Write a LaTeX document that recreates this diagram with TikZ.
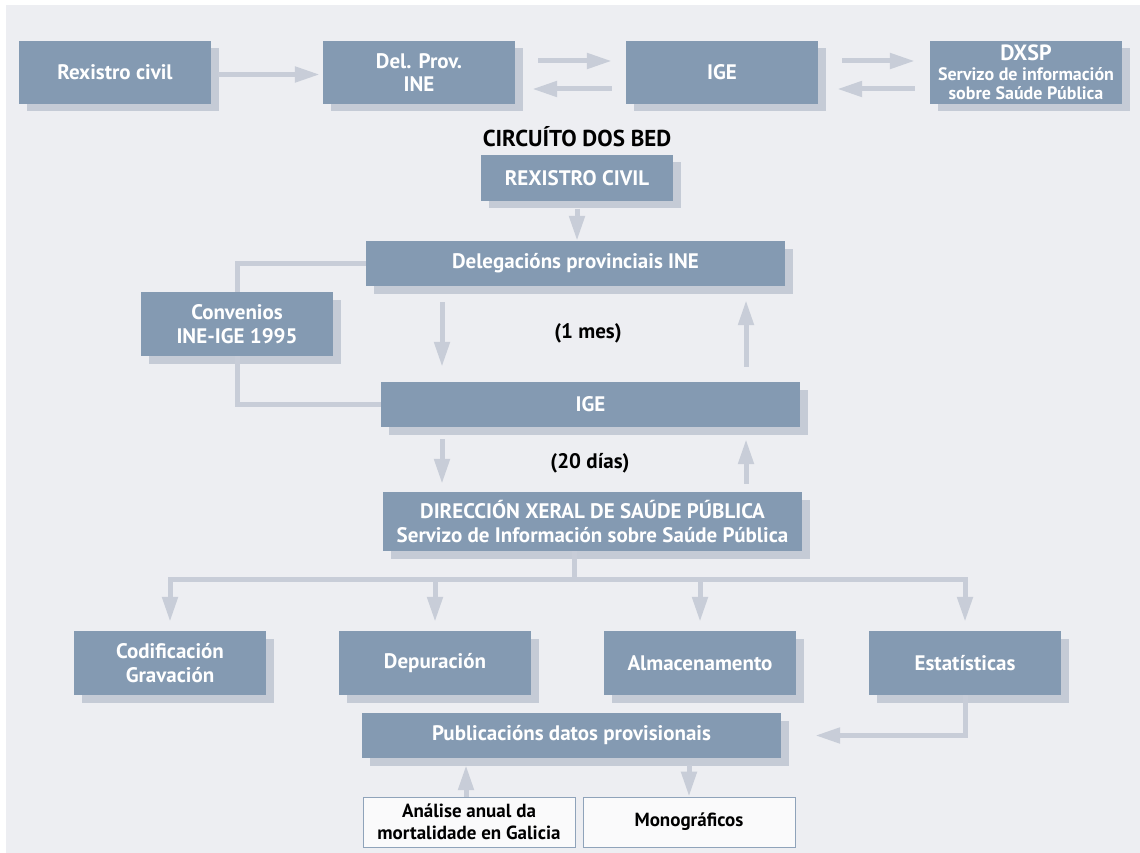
\documentclass[tikz,border=0pt]{standalone}
\usepackage{fontspec}
\setmainfont{PT Sans}
\usetikzlibrary{arrows.meta,shadows}
\definecolor{azulcaixa}{HTML}{849AB2}
\definecolor{sombra}{HTML}{C5CBD6}
\definecolor{corfrecha}{HTML}{C8CDD8}
\definecolor{fondo}{HTML}{EDEEF2}
\definecolor{borde}{HTML}{8FA3BA}

\begin{document}
\begin{tikzpicture}[x=1pt,y=-1pt,
  caixa/.style={fill=azulcaixa, text=white, font=\bfseries\fontsize{21}{23.5}\selectfont,
    align=center, inner sep=0pt, minimum width=192pt, minimum height=63pt,
    drop shadow={shadow xshift=7.5pt, shadow yshift=-7.5pt, fill=sombra, opacity=1}},
  ancha/.style={minimum width=419pt, minimum height=45pt},
  branca/.style={draw=borde, line width=0.8pt, fill=white!70!fondo, text=black,
    font=\bfseries\fontsize{19}{22}\selectfont, align=center, inner sep=0pt,
    minimum width=212pt, minimum height=50pt},
  rotulo/.style={text=black, font=\bfseries\fontsize{21}{24}\selectfont},
  frecha/.style={draw=corfrecha, line width=5pt, -{Triangle[width=15pt,length=25pt]}},
  linha/.style={draw=corfrecha, line width=5pt}]

\useasboundingbox (0,0) rectangle (1140,853);
\fill[fondo] (6,5) rectangle (1140,853);

% fila superior
\node[caixa] (rc) at (115,72.5) {Rexistro civil};
\node[caixa] (dp) at (419,72.5) {Del. Prov.\\INE};
\node[caixa] (ig) at (722,72.5) {IGE};
\node[caixa, font=\bfseries\fontsize{18}{19.5}\selectfont] (dx) at (1026,72.5)
  {{\fontsize{22}{20}\selectfont DXSP}\\Servizo de información\\sobre Saúde Pública};

\draw[frecha, shorten <=7pt, shorten >=3pt] ([yshift=-2pt]rc.east) -- ([yshift=-2pt]dp.west);
\draw[frecha, shorten <=23pt, shorten >=14pt] ([yshift=11.5pt]dp.east) -- ([yshift=11.5pt]ig.west);
\draw[frecha, shorten <=14pt, shorten >=17pt] ([yshift=-16.5pt]ig.west) -- ([yshift=-16.5pt]dp.east);
\draw[frecha, shorten <=24pt, shorten >=15pt] ([yshift=11.5pt]ig.east) -- ([yshift=11.5pt]dx.west);
\draw[frecha, shorten <=15pt, shorten >=19pt] ([yshift=-16.5pt]dx.west) -- ([yshift=-16.5pt]ig.east);

% circuito
\node[rotulo, font=\bfseries\fontsize{23}{26}\selectfont] (tit) at (577,137) {CIRCUÍTO DOS BED};
\node[caixa, minimum height=46pt] (rc2) at (577,178) {REXISTRO CIVIL};
\node[caixa, ancha] (del) at (575.5,263.5) {Delegacións provinciais INE};
\node[caixa, minimum height=64pt] (conv) at (237,324) {Convenios\\INE-IGE 1995};
\node[caixa, ancha] (ige) at (590.5,404.5) {IGE};
\node[caixa, ancha, minimum height=59pt] (dir) at (592.5,521.5)
  {DIRECCIÓN XERAL DE SAÚDE PÚBLICA\\Servizo de Información sobre Saúde Pública};
\node[rotulo] (mes) at (588,333) {(1 mes)};
\node[rotulo] (dias) at (590,463) {(20 días)};

\draw[linha] (del.west) -| (conv.north);
\draw[linha] (conv.south) |- (ige.west);
\draw[frecha, shorten <=7.5pt] (rc2.south) -- (rc2.south |- del.north);
\draw[frecha, shorten <=16pt, shorten >=15pt] ([xshift=-133.5pt]del.south) -- ([xshift=-133.5pt]del.south |- ige.north);
\draw[frecha, shorten <=15pt, shorten >=14pt] ([xshift=155.5pt]ige.north) -- ([xshift=155.5pt]ige.north |- del.south);
\draw[frecha, shorten <=12pt, shorten >=8pt] ([xshift=-148.5pt]ige.south) -- ([xshift=-148.5pt]ige.south |- dir.north);
\draw[frecha, shorten <=8pt, shorten >=12pt] ([xshift=155.5pt]ige.south |- dir.north) -- ([xshift=155.5pt]ige.south);

% tarefas
\node[caixa, minimum height=64pt] (cod) at (170,663) {Codificación\\Gravación};
\node[caixa, minimum height=64pt] (dep) at (435,663) {Depuración};
\node[caixa, minimum height=64pt] (alm) at (700,663) {Almacenamento};
\node[caixa, minimum height=64pt] (est) at (965,663) {Estatísticas};

\coordinate (rama) at (574,579);
\draw[linha] ([xshift=-18.5pt]dir.south) -- (rama);
\draw[linha, line cap=rect] (cod.north |- rama) -- (est.north |- rama);
\foreach \n in {cod,dep,alm,est}
  \draw[frecha, shorten >=9pt] (\n.north |- rama) -- (\n.north);

% publicacions
\node[caixa, ancha] (pub) at (571.5,735.5) {Publicacións datos provisionais};
\node[branca] (an) at (469,822) {Análise anual da\\mortalidade en Galicia};
\node[branca] (mono) at (689,822) {Monográficos};

\draw[frecha, shorten >=34pt] (est.south) |- (pub.east);
\draw[frecha, shorten >=7pt] ([xshift=-3pt]an.north) -- ([xshift=-3pt]an.north |- pub.south);
\draw[frecha, shorten <=7pt] (mono.north |- pub.south) -- (mono.north);

\end{tikzpicture}
\end{document}
